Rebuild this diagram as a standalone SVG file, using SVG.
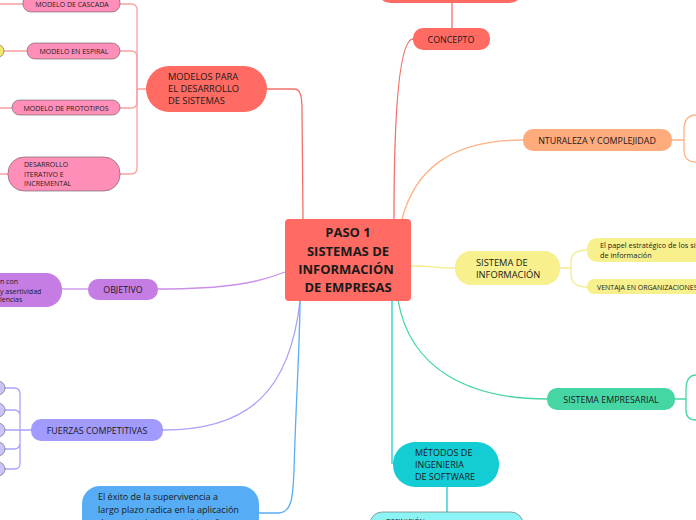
<svg xmlns="http://www.w3.org/2000/svg" width="696" height="520" viewBox="0 0 696 520">
<style>
text{font-family:"Open Sans","Noto Sans","Liberation Sans",sans-serif;fill:#1a1a1a}
.c{fill:none;stroke-width:1.3}
.red{stroke:#F2706A}
.pk{stroke:#F9A0A0}
.or{stroke:#FFB283}
.ye{stroke:#F3EC8C}
.te{stroke:#45D6A5}
.cy{stroke:#18CCD4}
.pu{stroke:#CB8FE8}
.la{stroke:#A9A2FB}
.bl{stroke:#5AADF5}
.t9{font-size:8.9px}
.t7{font-size:7px}
.sk{stroke:#555;stroke-width:0.7;stroke-opacity:0.8}
</style>
<rect width="696" height="520" fill="#fff"/>
<g id="connectors">
<path class="c red" d="M452 3 V28"/>
<path class="c red" d="M394 219 C394 120,398 40,413 39"/>
<path class="c red" d="M267 89 H294 C300 89,302 95,302 110 L303 219"/>
<path class="c pk" d="M146 89 H137 V10 Q137 4 131 4 H120"/>
<path class="c pk" d="M137 89 V57 Q137 51 131 51 H120"/>
<path class="c pk" d="M137 89 V102 Q137 108 131 108 H120"/>
<path class="c pk" d="M137 89 V168 Q137 174 131 174 H120"/>
<path class="c pk" d="M0 4 H23 M0 51 H27 M0 108 H12 M0 174 H8"/>
<path class="c or" d="M402 219 C415 170,450 140,523 140"/>
<path class="c or" d="M672 140 H684 M696 115 C688 115,684 120,684 130 V150 C684 158,688 162,696 162"/>
<path class="c ye" d="M411 266 C430 266,440 268,455 268"/>
<path class="c ye" d="M560 268 H571 M587 250 C576 250,571 254,571 262 V274 C571 282,576 287,587 287"/>
<path class="c te" d="M398 300 C410 370,470 399,547 399"/>
<path class="c te" d="M675 399 H686 M696 375 C689 375,686 380,686 390 V410 C686 416,689 420,696 420"/>
<path class="c cy" d="M392 300 V464"/>
<path class="c cy" d="M447 487 V512"/>
<path class="c pu" d="M158 289 C230 289,260 282,285 272"/>
<path class="c pu" d="M62 289 H88"/>
<path class="c la" d="M163 430 C250 430,290 390,300 301"/>
<path class="c la" d="M31 430 H20 M5 388 H14 Q20 388 20 394 V464 Q20 469 14 469 H5 M5 410 H14 Q20 410 20 416 M5 449 H14 Q20 449 20 443 M5 430 H20"/>
<path class="c bl" d="M259 513 H278 C291 513,293 500,294 470 C296 400,300 340,300 301"/>
</g>
<g id="top-node"><rect x="378" y="-30" width="144" height="33" rx="12" fill="#FF6B63"/></g>
<g id="central"><rect x="285" y="219" width="126" height="82" rx="4" fill="#FF6B63"/>
<text x="348" y="237" text-anchor="middle" font-size="13" font-weight="bold">PASO 1</text>
<text x="348" y="256" text-anchor="middle" font-size="13" font-weight="bold">SISTEMAS DE</text>
<text x="346" y="274" text-anchor="middle" font-size="13" font-weight="bold">INFORMACIÓN</text>
<text x="348" y="292" text-anchor="middle" font-size="13" font-weight="bold">DE EMPRESAS</text></g>
<g id="concepto"><rect x="413" y="28" width="77" height="22" rx="10" fill="#FF6B63"/><text class="t9" x="451" y="42.5" text-anchor="middle">CONCEPTO</text></g>
<g id="modelos"><rect x="146" y="66" width="121" height="46" rx="23" fill="#FF6B63"/>
<text x="168" y="80" font-size="9.3">MODELOS PARA</text><text x="168" y="92" font-size="9.3">EL DESARROLLO</text><text x="168" y="104" font-size="9.3">DE SISTEMAS</text></g>
<g id="cascada"><rect class="sk" x="23" y="-6" width="97" height="18" rx="8" fill="#FF8FB9"/><text class="t7" x="72" y="7" text-anchor="middle">MODELO DE CASCADA</text></g>
<g id="espiral"><rect class="sk" x="27" y="43" width="93" height="16" rx="8" fill="#FF8FB9"/><text class="t7" x="74" y="54" text-anchor="middle">MODELO EN ESPIRAL</text></g>
<g id="espiral-child"><ellipse class="sk" cx="-4" cy="51" rx="8" ry="7" fill="#F5E86A"/></g>
<g id="prototipos"><rect class="sk" x="12" y="100" width="108" height="15" rx="7.5" fill="#FF8FB9"/><text class="t7" x="66" y="110.5" text-anchor="middle">MODELO DE PROTOTIPOS</text></g>
<g id="iterativo"><rect class="sk" x="8" y="157" width="112" height="34" rx="16" fill="#FF8FB9"/>
<text class="t7" x="24" y="167">DESARROLLO</text><text class="t7" x="24" y="177">ITERATIVO E</text><text class="t7" x="24" y="186">INCREMENTAL</text></g>
<g id="objetivo"><rect x="88" y="279" width="70" height="21" rx="10" fill="#C67DE3"/><text class="t9" x="123" y="292.5" text-anchor="middle">OBJETIVO</text></g>
<g id="objetivo-child"><rect x="-60" y="273" width="122" height="34" rx="16" fill="#C67DE3"/>
<text class="t7" x="0" y="284">n con</text><text class="t7" x="0" y="294">y asertividad</text><text class="t7" x="0" y="302">lencias</text></g>
<g id="fuerzas"><rect x="31" y="419" width="132" height="22" rx="10" fill="#A29BFE"/><text class="t9" x="97" y="433.5" text-anchor="middle">FUERZAS COMPETITIVAS</text></g>
<g id="fuerzas-children">
<circle class="sk" cx="-2" cy="388" r="7" fill="#C9C4FB"/>
<circle class="sk" cx="-2" cy="410" r="7" fill="#C9C4FB"/>
<circle class="sk" cx="-2" cy="430" r="7" fill="#C9C4FB"/>
<circle class="sk" cx="-2" cy="449" r="7" fill="#C9C4FB"/>
<circle class="sk" cx="-2" cy="469" r="7" fill="#C9C4FB"/></g>
<g id="exito"><rect x="82" y="486" width="177" height="60" rx="18" fill="#56ADF5"/>
<text x="98" y="500" font-size="9">El éxito de la supervivencia a</text>
<text x="98" y="513" font-size="9">largo plazo radica en la aplicación</text>
<text x="98" y="526" font-size="9">de estrategias competitivas frente</text></g>
<g id="naturaleza"><rect x="523" y="129" width="149" height="22" rx="10" fill="#FFAB7B"/><text class="t9" x="597" y="143.5" text-anchor="middle">NTURALEZA Y COMPLEJIDAD</text></g>
<g id="sistema-info"><rect x="455" y="251" width="105" height="34" rx="16" fill="#F8F08C"/>
<text x="476" y="266" font-size="9.3">SISTEMA DE</text><text x="476" y="278" font-size="9.3">INFORMACIÓN</text></g>
<g id="papel"><rect x="587" y="238" width="140" height="24" rx="10" fill="#F8F08C"/>
<text font-size="7.3" x="600" y="247.5">El papel estratégico de los sistemas</text><text font-size="7.3" x="600" y="258">de información</text></g>
<g id="ventaja"><rect x="587" y="279" width="140" height="15" rx="7" fill="#F8F08C"/><text class="t7" x="597" y="289.5">VENTAJA EN ORGANIZACIONES</text></g>
<g id="empresarial"><rect x="547" y="388" width="128" height="22" rx="10" fill="#46D6A4"/><text class="t9" x="611" y="402.5" text-anchor="middle">SISTEMA EMPRESARIAL</text></g>
<g id="metodos"><rect x="393" y="442" width="106" height="45" rx="22" fill="#14CCD4"/>
<text x="415" y="456" font-size="9">MÉTODOS DE</text><text x="415" y="468" font-size="9">INGENIERIA</text><text x="415" y="480" font-size="9">DE SOFTWARE</text></g>
<g id="definicion"><rect x="370" y="512" width="153" height="30" rx="12" fill="#8DF4F6" stroke="#777" stroke-width="0.7"/><text class="t7" x="386" y="524">DEFINICIÓN:</text></g>
</svg>
